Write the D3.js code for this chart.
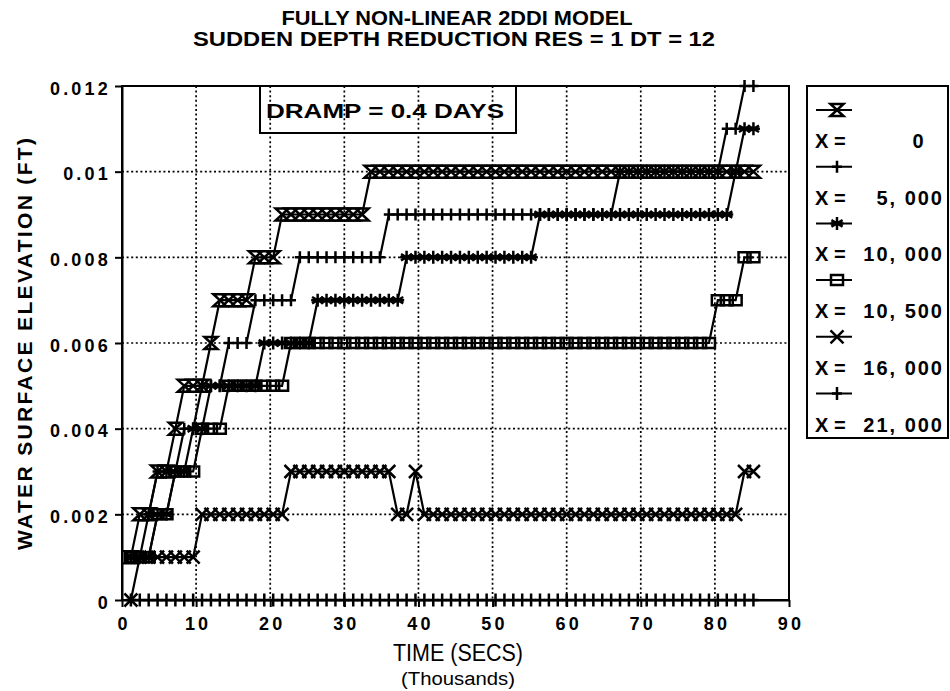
<!DOCTYPE html>
<html>
<head>
<meta charset="utf-8">
<script src="https://cdn.jsdelivr.net/npm/d3@7"></script>
<style>
body { margin: 0; background: #fff; }
text { font-family: "Liberation Sans", Arial, sans-serif; fill: #000; }
</style>
</head>
<body>
<svg id="chart" width="950" height="691"></svg>
<script>
// time of each printed step (thousands of secs)
var time = [1.2, 2.4, 3.6, 4.8, 6, 7.2, 8.4, 9.6, 10.8, 12, 13.2, 14.4,
	15.6, 16.8, 18, 19.2, 20.4, 21.6, 22.8, 24, 25.2, 26.4, 27.6, 28.8,
	30, 31.2, 32.4, 33.6, 34.8, 36, 37.2, 38.4, 39.6, 40.8, 42, 43.2,
	44.4, 45.6, 46.8, 48, 49.2, 50.4, 51.6, 52.8, 54, 55.2, 56.4, 57.6,
	58.8, 60, 61.2, 62.4, 63.6, 64.8, 66, 67.2, 68.4, 69.6, 70.8, 72,
	73.2, 74.4, 75.6, 76.8, 78, 79.2, 80.4, 81.6, 82.8, 84, 85.2];

// water surface elevation (ft) at each station
var wse_0 = [.001, .002, .002, .003, .003, .004, .005, .005, .005, .006, .007, .007,
	.007, .007, .008, .008, .008, .009, .009, .009, .009, .009, .009, .009,
	.009, .009, .009, .010, .010, .010, .010, .010, .010, .010, .010, .010,
	.010, .010, .010, .010, .010, .010, .010, .010, .010, .010, .010, .010,
	.010, .010, .010, .010, .010, .010, .010, .010, .010, .010, .010, .010,
	.010, .010, .010, .010, .010, .010, .010, .010, .010, .010, .010];
var wse_5000 = [.001, .001, .002, .003, .003, .003, .004, .004, .005, .005, .005, .006,
	.006, .006, .007, .007, .007, .007, .007, .008, .008, .008, .008, .008,
	.008, .008, .008, .008, .008, .009, .009, .009, .009, .009, .009, .009,
	.009, .009, .009, .009, .009, .009, .009, .009, .009, .009, .009, .009,
	.009, .009, .009, .009, .009, .009, .009, .010, .010, .010, .010, .010,
	.010, .010, .010, .010, .010, .010, .010, .011, .011, .012, .012];
var wse_10000 = [.001, .001, .001, .002, .002, .003, .003, .004, .004, .005, .005, .005,
	.005, .005, .005, .006, .006, .006, .006, .006, .006, .007, .007, .007,
	.007, .007, .007, .007, .007, .007, .007, .008, .008, .008, .008, .008,
	.008, .008, .008, .008, .008, .008, .008, .008, .008, .008, .009, .009,
	.009, .009, .009, .009, .009, .009, .009, .009, .009, .009, .009, .009,
	.009, .009, .009, .009, .009, .009, .009, .009, .010, .011, .011];
var wse_10500 = [.001, .001, .001, .002, .002, .003, .003, .003, .004, .004, .004, .005,
	.005, .005, .005, .005, .005, .005, .006, .006, .006, .006, .006, .006,
	.006, .006, .006, .006, .006, .006, .006, .006, .006, .006, .006, .006,
	.006, .006, .006, .006, .006, .006, .006, .006, .006, .006, .006, .006,
	.006, .006, .006, .006, .006, .006, .006, .006, .006, .006, .006, .006,
	.006, .006, .006, .006, .006, .006, .007, .007, .007, .008, .008];
var wse_16000 = [0, .001, .001, .001, .001, .001, .001, .001, .002, .002, .002, .002,
	.002, .002, .002, .002, .002, .002, .003, .003, .003, .003, .003, .003,
	.003, .003, .003, .003, .003, .003, .002, .002, .003, .002, .002, .002,
	.002, .002, .002, .002, .002, .002, .002, .002, .002, .002, .002, .002,
	.002, .002, .002, .002, .002, .002, .002, .002, .002, .002, .002, .002,
	.002, .002, .002, .002, .002, .002, .002, .002, .002, .003, .003];
var wse_21000 = [0, 0, 0, 0, 0, 0, 0, 0, 0, 0, 0, 0,
	0, 0, 0, 0, 0, 0, 0, 0, 0, 0, 0, 0,
	0, 0, 0, 0, 0, 0, 0, 0, 0, 0, 0, 0,
	0, 0, 0, 0, 0, 0, 0, 0, 0, 0, 0, 0,
	0, 0, 0, 0, 0, 0, 0, 0, 0, 0, 0, 0,
	0, 0, 0, 0, 0, 0, 0, 0, 0, 0, 0];

var stations = ["0", "5, 000", "10, 000", "10, 500", "16, 000", "21, 000"];
var symbols = ["hourglass", "plus", "star", "square", "cross", "tallplus"];
var seriesValues = [wse_0, wse_5000, wse_10000, wse_10500, wse_16000, wse_21000];

var xTicks = [0, 10, 20, 30, 40, 50, 60, 70, 80, 90];
var yTicks = [0, 0.002, 0.004, 0.006, 0.008, 0.010, 0.012];

var layout = { left: 122, right: 789, top: 86, bottom: 600 };

var svg = d3.select("#chart");

var xScale = d3.scaleLinear().domain([0, 90]).range([layout.left, layout.right]),
	yScale = d3.scaleLinear().domain([0, 0.012]).range([layout.bottom, layout.top]);

// title
svg.append("text").attr("x", 457).attr("y", 25).attr("text-anchor", "middle")
	.attr("textLength", 351).attr("lengthAdjust", "spacingAndGlyphs")
	.style("font-size", "21px").style("font-weight", "bold")
	.text("FULLY NON-LINEAR 2DDI MODEL");
svg.append("text").attr("x", 454).attr("y", 46).attr("text-anchor", "middle")
	.attr("textLength", 522).attr("lengthAdjust", "spacingAndGlyphs")
	.style("font-size", "21px").style("font-weight", "bold")
	.text("SUDDEN DEPTH REDUCTION RES = 1 DT = 12");

// grid
var grid = svg.append("g").attr("class", "grid")
	.style("stroke", "#000").style("stroke-width", 1.7).style("stroke-dasharray", "2,2.6");
grid.selectAll("line.gx")
	.data(xTicks.filter(function(d){ return d > 0 && d < 90; }))
	.enter().append("line")
	.attr("x1", function(d){ return xScale(d); })
	.attr("x2", function(d){ return xScale(d); })
	.attr("y1", layout.top).attr("y2", layout.bottom);
grid.selectAll("line.gy")
	.data(yTicks.filter(function(d){ return d > 0 && d < 0.012; }))
	.enter().append("line")
	.attr("y1", function(d){ return yScale(d); })
	.attr("y2", function(d){ return yScale(d); })
	.attr("x1", layout.left).attr("x2", layout.right);

// axes
var xAxis = svg.append("g")
	.attr("transform", "translate(0," + layout.bottom + ")")
	.call(d3.axisBottom(xScale).tickValues(xTicks).tickSize(7).tickSizeOuter(0).tickPadding(8));
var yAxis = svg.append("g")
	.attr("transform", "translate(" + layout.left + ",0)")
	.call(d3.axisLeft(yScale).tickValues(yTicks).tickSize(7).tickSizeOuter(0).tickPadding(4)
		.tickFormat(function(d){ return d === 0 ? "0" : String(+d.toFixed(3)); }));

[xAxis, yAxis].forEach(function(ax){
	ax.selectAll("path, line").style("stroke", "#000").style("stroke-width", 2);
	ax.selectAll("text")
		.style("font-size", "18px").style("font-weight", "bold")
		.style("letter-spacing", "3.2px").style("font-family", "'Liberation Sans', Arial, sans-serif");
});
yAxis.selectAll("text").attr("dy", "0.45em");
xAxis.selectAll("text").attr("dy", "0.85em").attr("dx", "1.5px");

// frame top/right
svg.append("rect")
	.attr("x", layout.left).attr("y", layout.top)
	.attr("width", layout.right - layout.left).attr("height", layout.bottom - layout.top)
	.style("fill", "none").style("stroke", "#000").style("stroke-width", 2);

// axis titles
svg.append("text").attr("x", 458).attr("y", 661).attr("text-anchor", "middle")
	.attr("textLength", 130).attr("lengthAdjust", "spacingAndGlyphs")
	.style("font-size", "23px")
	.text("TIME (SECS)");
svg.append("text").attr("x", 458).attr("y", 685).attr("text-anchor", "middle")
	.attr("textLength", 114).attr("lengthAdjust", "spacingAndGlyphs")
	.style("font-size", "18px")
	.text("(Thousands)");
svg.append("text")
	.attr("transform", "translate(32,344) rotate(-90)")
	.attr("text-anchor", "middle")
	.attr("textLength", 412).attr("lengthAdjust", "spacing")
	.style("font-size", "21px").style("font-weight", "bold")
	.text("WATER SURFACE ELEVATION (FT)");

// annotation box
svg.append("rect").attr("x", 260).attr("y", layout.top).attr("width", 256).attr("height", 47)
	.style("fill", "none").style("stroke", "#000").style("stroke-width", 2);
svg.append("text").attr("x", 266).attr("y", 118)
	.attr("textLength", 238).attr("lengthAdjust", "spacingAndGlyphs")
	.style("font-size", "21px").style("font-weight", "bold")
	.text("DRAMP = 0.4 DAYS");

// marker shapes
function symbolPath(type){
	switch(type){
		case "hourglass": return "M-6.5,-6L6.5,-6L-6.5,6L6.5,6Z";
		case "plus": return "M-5,0L5,0M0,-6L0,6";
		case "star": return "M0,-6.5L0,6.5M-5.6,-3.2L5.6,3.2M-5.6,3.2L5.6,-3.2M-6.5,0L6.5,0";
		case "square": return "M-6,-5L6,-5L6,5L-6,5Z";
		case "cross": return "M-6.5,-6.5L6.5,6.5M-6.5,6.5L6.5,-6.5";
		case "tallplus": return "M-5,0L5,0M0,-6.5L0,6.5";
	}
}

svg.append("clipPath").attr("id", "plotclip")
	.append("rect").attr("x", layout.left).attr("y", layout.top - 8)
	.attr("width", layout.right - layout.left).attr("height", layout.bottom - layout.top + 16);

var plot = svg.append("g").attr("clip-path", "url(#plotclip)");

var line = d3.line()
	.x(function(d){ return xScale(d[0]); })
	.y(function(d){ return yScale(d[1]); });

seriesValues.forEach(function(vals, s){
	var pts = time.map(function(t, i){ return [t, vals[i]]; });
	var g = plot.append("g").attr("class", "series" + s);
	g.append("path").attr("d", line(pts))
		.style("fill", "none").style("stroke", "#000").style("stroke-width", 2.2);
	g.selectAll("path.mk").data(pts).enter().append("path")
		.attr("class", "mk")
		.attr("transform", function(d){ return "translate(" + xScale(d[0]) + "," + yScale(d[1]) + ")"; })
		.attr("d", symbolPath(symbols[s]))
		.style("fill", "none").style("stroke", "#000").style("stroke-width", 2.5);
});

// legend
var legend = svg.append("g");
legend.append("rect").attr("x", 807).attr("y", layout.top).attr("width", 141).attr("height", 352)
	.style("fill", "#fff").style("stroke", "#000").style("stroke-width", 2);
stations.forEach(function(st, i){
	var yRow = 110 + i * 56.7;
	legend.append("line").attr("x1", 816).attr("x2", 852).attr("y1", yRow).attr("y2", yRow)
		.style("stroke", "#000").style("stroke-width", 2);
	legend.append("path").attr("transform", "translate(837," + yRow + ")")
		.attr("d", symbolPath(symbols[i]))
		.style("fill", "none").style("stroke", "#000").style("stroke-width", 2.5);
	legend.append("text").attr("x", 815).attr("y", yRow + 38)
		.style("font-size", "20px").style("font-weight", "bold")
		.text("X =");
	legend.append("text")
		.attr("x", st === "0" ? 919 : 944).attr("y", yRow + 38)
		.attr("text-anchor", st === "0" ? "middle" : "end")
		.style("font-size", "20px").style("font-weight", "bold").style("letter-spacing", "2px")
		.text(st);
});
</script>
</body>
</html>
